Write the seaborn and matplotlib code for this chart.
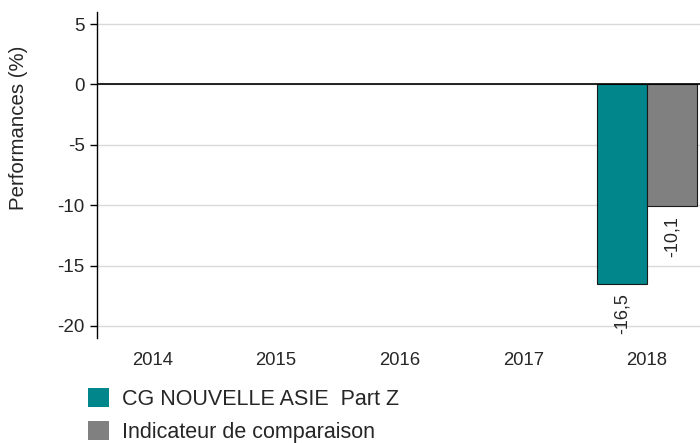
import numpy as np
import pandas as pd
import matplotlib
matplotlib.use('Agg')
import matplotlib.pyplot as plt
import seaborn as sns

# Data
years = ['2014', '2015', '2016', '2017', '2018']
fund = [np.nan, np.nan, np.nan, np.nan, -16.5]
benchmark = [np.nan, np.nan, np.nan, np.nan, -10.1]
series_names = ['CG NOUVELLE ASIE  Part Z', 'Indicateur de comparaison']
colors = ['#00868B', '#808080']

df = pd.DataFrame({
    'Année': years * 2,
    'Performance': fund + benchmark,
    'Série': [series_names[0]] * len(years) + [series_names[1]] * len(years),
})

sns.set_style('white')
plt.rcParams['font.family'] = ['Liberation Sans', 'DejaVu Sans']
plt.rcParams['axes.unicode_minus'] = False

fig = plt.figure(figsize=(7, 4.43), dpi=100)
ax = fig.add_axes([0.1386, 0.237, 0.8614, 0.736])

sns.barplot(data=df, x='Année', y='Performance', hue='Série', order=years,
            hue_order=series_names, palette=colors, saturation=1, width=0.81,
            edgecolor='#1a1a1a', linewidth=0.8, ax=ax, legend=False, zorder=3)

# value labels, French decimal comma
for container in ax.containers:
    labels = []
    for bar in container:
        h = bar.get_height()
        labels.append('' if np.isnan(h) else f'{h:.1f}'.replace('.', ','))
    ax.bar_label(container, labels=labels, rotation=90, padding=7, fontsize=13)

ax.set_ylim(-21, 6)
ax.set_xlim(-0.45, 4.43)
ax.set_yticks([5, 0, -5, -10, -15, -20])
ax.yaxis.grid(True, color='#d9d9d9', linewidth=1, zorder=0)
ax.axhline(0, color='black', linewidth=1.2, zorder=4)

for side in ['top', 'right', 'bottom']:
    ax.spines[side].set_visible(False)
ax.spines['left'].set_color('black')
ax.spines['left'].set_linewidth(1)

ax.tick_params(axis='y', left=True, length=5, width=1, color='black', labelsize=13.5, pad=4)
ax.tick_params(axis='x', bottom=False, labelsize=13.3, pad=6.5)
ax.set_xlabel('')
ax.set_ylabel('Performances (%)', fontsize=14.7)
ax.yaxis.set_label_coords(-0.115, 0.644)

handles = [plt.Rectangle((0, 0), 1, 1, facecolor=c, edgecolor='none') for c in colors]
fig.legend(handles, series_names, loc='upper left', bbox_to_anchor=(0.125, 0.124),
           frameon=False, fontsize=15.5, handlelength=1.0, handleheight=1.0,
           handletextpad=0.62, labelspacing=0.5, borderpad=0, borderaxespad=0)

fig.savefig('out.png', dpi=100)
